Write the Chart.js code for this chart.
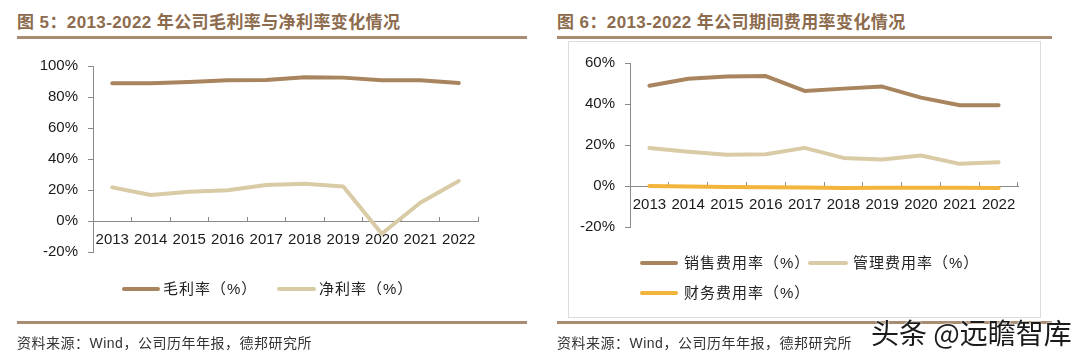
<!DOCTYPE html>
<html><head><meta charset="utf-8">
<script src="https://cdn.jsdelivr.net/npm/chart.js@4.4.0/dist/chart.umd.min.js"></script>
<style>
html,body{margin:0;padding:0;background:#fff;width:1080px;height:359px;overflow:hidden;}
.abs{position:absolute;}
.title{font-family:"Liberation Sans","Noto Sans CJK SC",sans-serif;font-weight:bold;font-size:17px;color:#8d6b4d;white-space:nowrap;letter-spacing:0.4px;}
.rule{height:3px;background:#a88b70;}
.src{font-family:"Liberation Sans","Noto Sans CJK SC",sans-serif;font-size:14px;color:#333;white-space:nowrap;letter-spacing:0.5px;}
.leg{font-family:"Liberation Sans","Noto Sans CJK SC",sans-serif;font-size:15px;color:#222;white-space:nowrap;line-height:18px;letter-spacing:1px;}
.ln{height:4px;border-radius:2px;}
canvas{position:absolute;left:0;top:0;}
.wm{font-family:"Noto Sans CJK SC",sans-serif;font-size:28px;color:#1b1b1b;white-space:nowrap;text-shadow:0 0 2px #fff,0 0 2px #fff;}
</style></head>
<body>
<div class="abs title" style="left:17px;top:8px;">图 5：2013-2022 年公司毛利率与净利率变化情况</div>
<div class="abs rule" style="left:17px;top:36px;width:510px;"></div>
<div class="abs title" style="left:557px;top:8px;">图 6：2013-2022 年公司期间费用率变化情况</div>
<div class="abs rule" style="left:557px;top:36px;width:495px;"></div>
<div class="abs" style="left:568px;top:41px;width:471px;height:275px;border:1px solid #dcdcdc;"></div>

<div class="abs" style="left:0;top:0;width:540px;height:359px;"><canvas id="c1" width="540" height="359"></canvas></div>
<div class="abs" style="left:540px;top:0;width:540px;height:359px;"><canvas id="c2" width="540" height="359"></canvas></div>

<!-- legends -->
<div class="abs ln" style="left:122px;top:287px;width:38px;background:#a8855f;"></div>
<div class="abs leg" style="left:163px;top:280px;">毛利率（%）</div>
<div class="abs ln" style="left:277px;top:287px;width:39px;background:#d9cba6;"></div>
<div class="abs leg" style="left:319px;top:280px;">净利率（%）</div>

<div class="abs ln" style="left:640px;top:261px;width:38px;background:#a8855f;"></div>
<div class="abs leg" style="left:684px;top:254px;">销售费用率（%）</div>
<div class="abs ln" style="left:808px;top:261px;width:40px;background:#d9cba6;"></div>
<div class="abs leg" style="left:853px;top:254px;">管理费用率（%）</div>
<div class="abs ln" style="left:640px;top:291px;width:38px;background:#f2b43a;"></div>
<div class="abs leg" style="left:684px;top:284px;">财务费用率（%）</div>

<div class="abs rule" style="left:17px;top:321px;width:510px;"></div>
<div class="abs rule" style="left:557px;top:321px;width:495px;"></div>
<div class="abs src" style="left:17px;top:332px;">资料来源：Wind，公司历年年报，德邦研究所</div>
<div class="abs src" style="left:557px;top:332px;">资料来源：Wind，公司历年年报，德邦研究所</div>
<div class="abs wm" style="left:871px;top:312px;">头条 @远瞻智库</div>

<script>
const years = ["2013","2014","2015","2016","2017","2018","2019","2020","2021","2022"];
const grossMargin = [88.8, 88.8, 89.7, 90.8, 91.0, 92.7, 92.5, 90.8, 90.8, 89.0];
const netMargin   = [21.7, 16.8, 18.9, 19.8, 23.2, 24.1, 22.2, -8.2, 11.8, 25.8];
const sellingRate = [48.9, 52.3, 53.4, 53.6, 46.4, 47.5, 48.5, 43.1, 39.4, 39.4];
const adminRate   = [18.5, 16.7, 15.2, 15.5, 18.6, 13.7, 12.9, 14.9, 10.8, 11.6];
const financeRate = [0.0, -0.2, -0.5, -0.6, -0.7, -1.0, -0.8, -0.8, -0.9, -1.0];
const leftTicks = [100, 80, 60, 40, 20, 0, -20];
const rightTicks = [60, 40, 20, 0, -20];

const C_DARK = "#a8855f", C_LIGHT = "#d9cba6", C_ORANGE = "#f2b43a";
const AXIS = "#8a8a8a";
const FONT = {family: "'Liberation Sans', Arial, sans-serif", size: 15};

function ds(label, data, color){
  return {label, data, borderColor: color, backgroundColor: color, borderWidth: 4,
    pointRadius: 0, tension: 0, borderJoinStyle: "round", borderCapStyle: "round", fill: false};
}

function makeChart(id, datasets, ticks, pad, yWidth){
  const mn = Math.min(...ticks), mx = Math.max(...ticks);
  return new Chart(document.getElementById(id), {
    type: "line",
    data: {labels: years, datasets},
    options: {
      responsive: false, animation: false, maintainAspectRatio: false,
      layout: {padding: pad},
      plugins: {legend: {display: false}, tooltip: {enabled: false}},
      scales: {
        x: {
          type: "category", offset: true,
          position: {y: 0},
          afterFit: s => { s.height = 0; },
          grid: {offset: true, drawOnChartArea: false, tickLength: -5, color: AXIS, tickColor: AXIS},
          border: {display: true, color: AXIS, width: 1},
          ticks: {font: FONT, color: "#1a1a1a", padding: 15, maxRotation: 0, autoSkip: false}
        },
        y: {
          min: mn, max: mx,
          afterFit: s => { s.width = yWidth; },
          afterBuildTicks: s => { s.ticks = ticks.slice().reverse().map(v => ({value: v})); },
          grid: {drawOnChartArea: false, tickLength: 5, color: AXIS, tickColor: AXIS},
          border: {display: true, color: AXIS, width: 1},
          ticks: {font: FONT, color: "#1a1a1a", padding: 10, callback: v => v + "%"}
        }
      }
    }
  });
}

makeChart("c1", [ds("毛利率（%）", grossMargin, C_DARK), ds("净利率（%）", netMargin, C_LIGHT)],
  leftTicks, {left: 0, right: 62, top: 66, bottom: 107}, 93);
makeChart("c2", [ds("销售费用率（%）", sellingRate, C_DARK), ds("管理费用率（%）", adminRate, C_LIGHT), ds("财务费用率（%）", financeRate, C_ORANGE)],
  rightTicks, {left: 0, right: 62, top: 63, bottom: 132}, 90);
</script>
</body></html>
